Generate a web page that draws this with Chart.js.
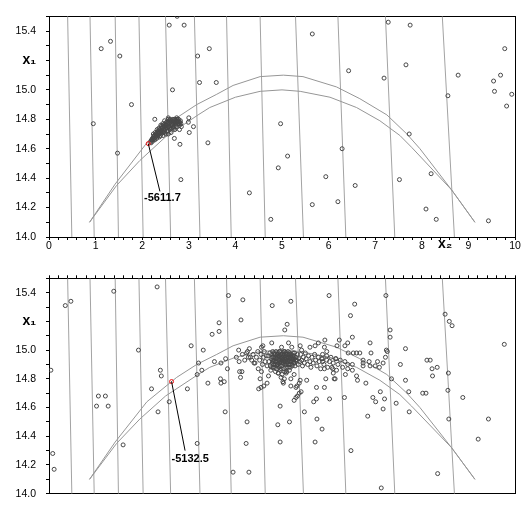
<!DOCTYPE html>
<html>
<head>
<meta charset="utf-8">
<script src="https://cdn.jsdelivr.net/npm/chart.js@4.4.1/dist/chart.umd.min.js"></script>
<style>
  html, body { margin: 0; padding: 0; background: #fff; }
  #wrap { position: relative; width: 521px; height: 510px; }
  canvas { position: absolute; left: 0; }
  #chart-top { top: 0; }
  #chart-bottom { top: 262px; }
</style>
</head>
<body>
<div id="wrap">
  <canvas id="chart-top" width="521" height="262"></canvas>
  <canvas id="chart-bottom" width="521" height="248"></canvas>
</div>
<script>
// contour lines: x2 where each line meets the top (x1 = 15.5) and bottom (x1 = 14.0) edges
const contourTopX = [0.40, 0.88, 1.42, 1.93, 2.50, 3.12, 3.81, 4.53, 5.29, 6.20, 7.22, 8.44];
const contourBottomX = [0.49, 0.97, 1.49, 2.02, 2.61, 3.24, 3.91, 4.64, 5.46, 6.37, 7.42, 8.70];

// the two arch-shaped constraint curves, [x2, x1]
const outerCurve = [[0.87, 14.10], [1.42, 14.36], [2.10, 14.64], [2.74, 14.81], [3.17, 14.90], [3.60, 14.97],
  [3.95, 15.03], [4.53, 15.09], [5.03, 15.10], [5.45, 15.09], [6.17, 15.02], [6.67, 14.94], [7.25, 14.83],
  [7.68, 14.70], [7.96, 14.60], [8.64, 14.32], [9.14, 14.10]];
const innerCurve = [[0.87, 14.10], [1.45, 14.35], [1.95, 14.52], [2.50, 14.68], [3.20, 14.83], [3.45, 14.88],
  [4.00, 14.95], [4.53, 14.99], [5.00, 15.00], [5.39, 14.99], [6.03, 14.95], [6.60, 14.88], [7.10, 14.79],
  [7.53, 14.69], [7.78, 14.61], [8.64, 14.32], [9.14, 14.10]];

// top panel samples
const topPoints = [[1.12, 15.28], [1.32, 15.33], [1.52, 15.23], [1.77, 14.90], [0.95, 14.77], [2.58, 15.44],
  [2.75, 15.50], [2.90, 15.44], [2.65, 15.00], [3.19, 15.23], [3.44, 15.28], [3.23, 15.05], [3.59, 15.05],
  [5.65, 15.38], [7.28, 15.46], [7.75, 15.44], [9.78, 15.28], [6.43, 15.13], [7.66, 15.17], [7.19, 15.08],
  [8.78, 15.10], [9.69, 15.10], [9.54, 15.06], [9.56, 14.99], [9.93, 14.97], [9.82, 14.89], [8.56, 14.96],
  [4.97, 14.77], [7.73, 14.70], [1.47, 14.57], [2.83, 14.39], [3.41, 14.64], [4.30, 14.30], [6.29, 14.60],
  [5.12, 14.55], [4.92, 14.47], [5.94, 14.41], [6.57, 14.35], [5.65, 14.22], [6.20, 14.24], [4.76, 14.12],
  [7.52, 14.39], [8.20, 14.43], [8.09, 14.19], [8.31, 14.12], [9.43, 14.11],
  [2.27, 14.80], [2.56, 14.81], [2.74, 14.81], [3.00, 14.81], [2.99, 14.78], [3.10, 14.75], [3.01, 14.71],
  [2.69, 14.67], [2.81, 14.63]];
const topCluster = [[2.18, 14.65], [2.20, 14.66], [2.22, 14.65], [2.22, 14.67], [2.25, 14.67], [2.26, 14.69],
  [2.27, 14.66], [2.29, 14.68], [2.30, 14.70], [2.31, 14.67], [2.33, 14.69], [2.34, 14.72], [2.35, 14.70],
  [2.37, 14.68], [2.38, 14.71], [2.39, 14.73], [2.41, 14.70], [2.42, 14.74], [2.43, 14.72], [2.45, 14.69],
  [2.46, 14.75], [2.47, 14.71], [2.49, 14.73], [2.50, 14.76], [2.51, 14.70], [2.53, 14.74], [2.54, 14.77],
  [2.55, 14.72], [2.57, 14.75], [2.58, 14.78], [2.60, 14.73], [2.61, 14.76], [2.63, 14.79], [2.64, 14.74],
  [2.66, 14.77], [2.68, 14.75], [2.70, 14.78], [2.72, 14.76], [2.74, 14.79], [2.76, 14.77], [2.78, 14.78],
  [2.80, 14.76], [2.36, 14.74], [2.44, 14.77], [2.52, 14.78], [2.28, 14.71], [2.62, 14.71], [2.70, 14.73],
  [2.48, 14.79], [2.56, 14.80], [2.66, 14.80], [2.75, 14.80], [2.82, 14.79], [2.84, 14.75], [2.80, 14.73],
  [2.56, 14.70], [2.40, 14.76], [2.32, 14.73], [2.24, 14.70],
  [2.19, 14.64], [2.21, 14.66], [2.23, 14.66], [2.24, 14.68], [2.26, 14.67], [2.28, 14.69], [2.29, 14.70],
  [2.31, 14.69], [2.32, 14.71], [2.33, 14.68], [2.35, 14.72], [2.36, 14.71], [2.37, 14.73], [2.39, 14.69],
  [2.40, 14.72], [2.41, 14.75], [2.43, 14.74], [2.44, 14.71], [2.45, 14.76], [2.46, 14.73], [2.48, 14.72],
  [2.48, 14.75], [2.49, 14.77], [2.51, 14.74], [2.52, 14.76], [2.53, 14.72], [2.55, 14.78], [2.56, 14.75],
  [2.57, 14.77], [2.59, 14.74], [2.59, 14.79], [2.61, 14.78], [2.62, 14.74], [2.63, 14.77], [2.65, 14.76],
  [2.65, 14.79], [2.67, 14.78], [2.68, 14.74], [2.69, 14.79], [2.71, 14.77], [2.73, 14.78], [2.73, 14.75],
  [2.75, 14.78], [2.77, 14.79], [2.79, 14.77], [2.81, 14.78], [2.83, 14.77], [2.60, 14.80], [2.70, 14.80],
  [2.78, 14.80]];
const topBest = [2.13, 14.635];
const topLabelEnd = [2.38, 14.31];
const topLabelAt = [2.04, 14.263];
const topLabel = '-5611.7';

// bottom panel samples
const bottomPoints = [[2.32, 15.44], [1.39, 15.41], [0.35, 15.31], [0.47, 15.34], [1.92, 15.00], [0.04, 14.86],
  [2.39, 14.86], [2.41, 14.82], [3.65, 15.19], [3.65, 15.13], [3.50, 15.11], [4.12, 15.21], [4.16, 15.35],
  [3.85, 15.38], [3.05, 15.03], [3.31, 15.00], [3.21, 14.91], [3.18, 14.83], [3.28, 14.86], [3.55, 14.92],
  [3.69, 14.91], [3.79, 14.94], [3.83, 14.87], [4.07, 15.00], [4.09, 14.85], [4.14, 14.85], [4.11, 14.81],
  [3.68, 14.80], [3.76, 14.78], [3.41, 14.77], [0.08, 14.28], [0.11, 14.17], [1.06, 14.68], [1.21, 14.68],
  [1.02, 14.61], [1.27, 14.61], [1.59, 14.34], [2.20, 14.73], [2.34, 14.57], [2.58, 14.64], [2.97, 14.73],
  [3.69, 14.77], [3.78, 14.57], [3.18, 14.35], [3.95, 14.15], [4.29, 14.15], [4.23, 14.35], [4.25, 14.50],
  [4.50, 14.73], [5.03, 14.77], [5.19, 14.75], [5.30, 14.74], [5.37, 14.77], [5.53, 14.79], [4.68, 14.77],
  [4.61, 14.75], [4.55, 14.74], [5.30, 14.67], [5.33, 14.68], [5.37, 14.70], [5.26, 14.65], [5.41, 14.71],
  [5.74, 14.74], [5.91, 14.74], [5.68, 14.64], [5.74, 14.66], [6.02, 14.66], [6.34, 14.67], [4.96, 14.61],
  [5.48, 14.57], [4.91, 14.48], [5.16, 14.50], [4.96, 14.36], [5.75, 14.52], [5.86, 14.45], [5.71, 14.36],
  [6.48, 14.30], [7.13, 14.04], [6.80, 14.77], [6.62, 14.79], [7.11, 14.71], [6.95, 14.67], [7.01, 14.64],
  [7.20, 14.66], [7.17, 14.59], [6.84, 14.54], [7.45, 14.63], [7.72, 14.71], [7.73, 14.57], [7.65, 14.79],
  [8.02, 14.70], [8.09, 14.70], [8.56, 14.72], [8.58, 14.52], [8.88, 14.67], [9.43, 14.52], [9.21, 14.38],
  [8.34, 14.14], [4.79, 15.31], [5.19, 15.34], [6.01, 15.38], [7.23, 15.38], [6.56, 15.32], [6.47, 15.24],
  [8.50, 15.25], [8.59, 15.20], [8.65, 15.17], [9.77, 15.04], [5.11, 15.18], [5.06, 15.14], [7.32, 15.14],
  [7.32, 15.09], [6.51, 15.09], [6.23, 15.07], [6.41, 15.05], [6.18, 15.03], [6.89, 15.05], [7.65, 15.01],
  [8.11, 14.93], [8.18, 14.93], [8.22, 14.87], [8.33, 14.88], [8.23, 14.82], [8.57, 14.84], [7.54, 14.90],
  [6.35, 15.03], [5.91, 15.02], [6.91, 14.98], [7.24, 15.00], [7.26, 14.99], [6.53, 14.98], [6.60, 14.98],
  [6.67, 14.98], [6.42, 14.98], [7.22, 14.95], [6.74, 14.93], [6.87, 14.92], [7.05, 14.92], [7.17, 14.91],
  [6.74, 14.91], [6.74, 14.89], [6.89, 14.89], [7.00, 14.89], [7.09, 14.88], [6.41, 14.90], [6.51, 14.90],
  [6.41, 14.87], [6.51, 14.86], [6.16, 14.94], [6.36, 14.83], [6.60, 14.82], [7.35, 14.80], [5.94, 14.80],
  [6.12, 14.80], [6.10, 14.84], [6.17, 14.86], [6.07, 14.88], [5.98, 14.88], [5.91, 14.87], [5.96, 14.99],
  [5.96, 14.96], [5.96, 14.93], [5.87, 14.97], [5.87, 14.94], [5.87, 14.92], [6.15, 14.94], [5.92, 15.07],
  [4.71, 14.82], [4.78, 14.88], [4.53, 14.80], [5.19, 14.80], [5.26, 14.83], [5.39, 14.79], [5.32, 14.75],
  [6.14, 14.80], [6.09, 14.87], [4.78, 15.05], [4.99, 15.02], [5.14, 15.05], [5.21, 15.02], [5.42, 15.00],
  [5.60, 15.02], [5.78, 15.05], [4.30, 15.01], [4.56, 15.02], [4.24, 14.98], [4.28, 14.95], [4.35, 14.93],
  [4.42, 14.91], [4.49, 14.87], [4.56, 14.85], [4.92, 14.84], [5.10, 14.85], [4.89, 14.90], [4.59, 15.03],
  [5.39, 15.03], [5.71, 15.03]];
const bottomCore = [[4.70, 14.96], [4.72, 14.92], [4.74, 14.98], [4.75, 14.89], [4.77, 14.94], [4.78, 14.97],
  [4.79, 14.91], [4.80, 14.99], [4.81, 14.88], [4.82, 14.95], [4.83, 14.93], [4.84, 14.97], [4.85, 14.90],
  [4.86, 14.95], [4.87, 14.99], [4.88, 14.92], [4.88, 14.87], [4.89, 14.96], [4.90, 14.94], [4.91, 14.90],
  [4.92, 14.98], [4.93, 14.93], [4.94, 14.96], [4.94, 14.88], [4.95, 14.91], [4.96, 14.99], [4.97, 14.94],
  [4.98, 14.92], [4.98, 14.97], [4.99, 14.89], [5.00, 14.95], [5.01, 14.93], [5.02, 14.98], [5.03, 14.91],
  [5.03, 14.96], [5.04, 14.87], [5.05, 14.94], [5.06, 14.99], [5.07, 14.92], [5.08, 14.96], [5.09, 14.90],
  [5.10, 14.94], [5.11, 14.97], [5.12, 14.92], [5.13, 14.88], [5.14, 14.95], [5.15, 14.93], [5.16, 14.98],
  [5.17, 14.90], [5.18, 14.95], [5.19, 14.92], [5.20, 14.97], [5.21, 14.94], [5.22, 14.89], [5.23, 14.96],
  [5.24, 14.92], [5.25, 14.94], [5.27, 14.98], [5.28, 14.91], [5.30, 14.95], [5.31, 14.93], [5.33, 14.97],
  [5.35, 14.90], [5.36, 14.94], [5.38, 14.92], [4.76, 14.86], [4.86, 14.85], [4.96, 14.86], [5.06, 14.85],
  [5.16, 14.86], [4.92, 14.84], [5.00, 14.83], [5.09, 14.84], [4.98, 14.81], [5.05, 14.80], [5.02, 14.78],
  [5.40, 14.97], [5.42, 14.93], [5.44, 14.89], [5.46, 14.95], [5.48, 14.91], [5.50, 14.98], [5.52, 14.94],
  [5.55, 14.90], [5.57, 14.96], [5.60, 14.92], [5.62, 14.88], [5.64, 14.95], [5.67, 14.91], [5.70, 14.97],
  [5.72, 14.93], [5.75, 14.89], [5.78, 14.95], [5.80, 14.92], [5.83, 14.87], [5.85, 14.94], [5.90, 14.90],
  [6.02, 14.92], [6.05, 14.95], [6.10, 14.91], [6.20, 14.90], [6.25, 14.93], [6.30, 14.88], [6.35, 14.92],
  [4.02, 14.95], [4.08, 14.92], [4.15, 14.97], [4.20, 14.93], [4.26, 14.99], [4.32, 14.95], [4.38, 14.97],
  [4.40, 14.91], [4.45, 14.95], [4.48, 14.99], [4.52, 14.93], [4.55, 14.97], [4.58, 14.90], [4.60, 14.95],
  [4.62, 14.99], [4.64, 14.92], [4.66, 14.96], [4.68, 14.89],
  [4.79, 14.95], [4.80, 14.93], [4.82, 14.90], [4.83, 14.98], [4.85, 14.92], [4.86, 14.97], [4.87, 14.94],
  [4.89, 14.89], [4.90, 14.97], [4.91, 14.95], [4.92, 14.91], [4.93, 14.96], [4.95, 14.93], [4.96, 14.89],
  [4.97, 14.97], [4.99, 14.94], [5.00, 14.91], [5.01, 14.97], [5.02, 14.94], [5.04, 14.92], [5.05, 14.97],
  [5.06, 14.90], [5.07, 14.95], [5.08, 14.93], [5.09, 14.98], [5.10, 14.91], [5.12, 14.95], [5.13, 14.93],
  [5.14, 14.90], [5.15, 14.97], [5.17, 14.94], [5.18, 14.92], [5.19, 14.96], [5.20, 14.90], [5.22, 14.95],
  [5.23, 14.93], [5.25, 14.91], [5.26, 14.96], [5.27, 14.94], [5.29, 14.93], [4.84, 14.88], [4.94, 14.99],
  [5.04, 14.99], [5.13, 14.99], [5.24, 14.98], [4.98, 14.87], [5.08, 14.88], [5.18, 14.88], [5.28, 14.89],
  [4.81, 14.92]];
const bottomBest = [2.63, 14.781];
const bottomLabelEnd = [2.92, 14.30];
const bottomLabelAt = [2.63, 14.24];
const bottomLabel = '-5132.5';

const FONT = '"Liberation Sans", Arial, sans-serif';
Chart.defaults.font.family = FONT;

const toXY = pts => pts.map(([x, y]) => ({ x, y }));
const tenths = v => Math.round(v * 10);

const annotationPlugin = {
    id: 'bestLabel',
    afterDatasetsDraw(chart, args, opts) {
        const { ctx, scales: { x, y } } = chart;
        ctx.save();
        ctx.font = `bold 11px ${FONT}`;
        ctx.fillStyle = '#000';
        ctx.textAlign = 'left';
        ctx.textBaseline = 'middle';
        ctx.fillText(opts.text, x.getPixelForValue(opts.at[0]), y.getPixelForValue(opts.at[1]));
        ctx.restore();
    }
};

function xTickLabel(v) {
    const t = tenths(v);
    if (t % 10 === 0) return String(t / 10);
    if (t === 85) return 'x₂';
    return '';
}

function yTickLabel(v) {
    const t = tenths(v);
    if (t === 152) return 'x₁';
    if (t % 2 === 0) return (t / 10).toFixed(1);
    return '';
}

function makePanel(canvasId, isTop, points, cluster, best, labelEnd, labelAt, labelText) {
    const datasets = [];

    datasets.push({ data: [{ x: labelEnd[0], y: labelEnd[1] }, { x: best[0], y: best[1] }],
        showLine: true, borderColor: '#000', borderWidth: 1, pointRadius: 0, order: 0 });
    datasets.push({ data: [{ x: best[0], y: best[1] }], pointRadius: 2, borderWidth: 1,
        borderColor: '#ee1111', backgroundColor: 'rgba(0,0,0,0)', order: 1 });
    datasets.push({ data: toXY(points.concat(cluster)), pointRadius: 2, borderWidth: 1,
        borderColor: '#474747', backgroundColor: 'rgba(0,0,0,0)', order: 2 });
    [outerCurve, innerCurve].forEach(c => {
        datasets.push({ data: toXY(c), showLine: true, borderColor: '#969696', borderWidth: 1,
            pointRadius: 0, order: 3 });
    });
    contourTopX.forEach((xt, i) => {
        datasets.push({ data: [{ x: xt, y: 15.5 }, { x: contourBottomX[i], y: 14.0 }], showLine: true,
            borderColor: '#a3a3a3', borderWidth: 1, pointRadius: 0, order: 4 });
    });

    return new Chart(document.getElementById(canvasId), {
        type: 'scatter',
        data: { datasets },
        plugins: [annotationPlugin],
        options: {
            responsive: false,
            animation: false,
            devicePixelRatio: 1,
            layout: { padding: { left: 0, right: 6, top: isTop ? 4 : 0, bottom: isTop ? 0 : 5 } },
            plugins: {
                legend: { display: false },
                tooltip: { enabled: false },
                bestLabel: { text: labelText, at: labelAt }
            },
            scales: {
                x: {
                    type: 'linear', min: 0, max: 10, position: isTop ? 'bottom' : 'top',
                    afterFit: s => { s.height = isTop ? 25 : 9; },
                    border: { display: true, color: '#000', width: 1 },
                    grid: {
                        drawOnChartArea: false, tickLength: 3,
                        tickColor: ctx => (ctx.tick && tenths(ctx.tick.value) % 2 === 0) ? '#000' : 'rgba(0,0,0,0)'
                    },
                    ticks: {
                        display: isTop, stepSize: 0.1, autoSkip: false, maxRotation: 0, minRotation: 0,
                        padding: 0, color: '#000',
                        font: ctx => (ctx.tick && tenths(ctx.tick.value) === 85)
                            ? { family: FONT, size: 14, weight: 'bold', lineHeight: 0.65 }
                            : { family: FONT, size: 10.5, lineHeight: 1.1 },
                        callback: v => xTickLabel(v)
                    }
                },
                y: {
                    type: 'linear', min: 14, max: 15.5, position: 'left',
                    afterFit: s => { s.width = 49; },
                    border: { display: true, color: '#000', width: 1 },
                    grid: { drawOnChartArea: false, tickLength: 3, tickColor: '#000' },
                    ticks: {
                        stepSize: 0.1, autoSkip: false, padding: 10, color: '#000',
                        font: ctx => (ctx.tick && tenths(ctx.tick.value) === 152)
                            ? { family: FONT, size: 14, weight: 'bold' }
                            : { family: FONT, size: 10.5 },
                        callback: v => yTickLabel(v)
                    }
                },
                frameX: {
                    type: 'linear', min: 0, max: 10, position: isTop ? 'top' : 'bottom',
                    afterFit: s => { s.height = 0; },
                    border: { display: true, color: '#000', width: 1 },
                    grid: { drawOnChartArea: false, drawTicks: false },
                    ticks: { display: false }
                },
                frameY: {
                    type: 'linear', min: 14, max: 15.5, position: 'right',
                    afterFit: s => { s.width = 0; },
                    border: { display: true, color: '#000', width: 1 },
                    grid: { drawOnChartArea: false, drawTicks: false },
                    ticks: { display: false }
                }
            }
        }
    });
}

makePanel('chart-top', true, topPoints, topCluster, topBest, topLabelEnd, topLabelAt, topLabel);
makePanel('chart-bottom', false, bottomPoints, bottomCore, bottomBest, bottomLabelEnd, bottomLabelAt, bottomLabel);
</script>
</body>
</html>
